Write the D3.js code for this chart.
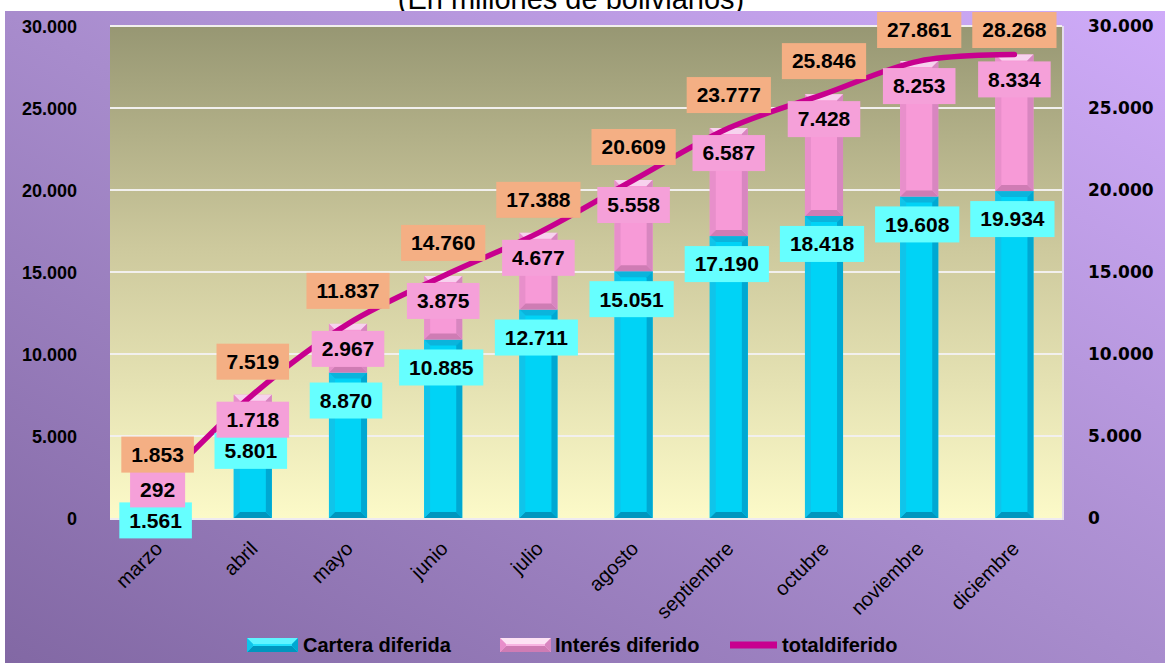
<!DOCTYPE html>
<html><head><meta charset="utf-8">
<script src="https://cdn.jsdelivr.net/npm/d3@7"></script>
<style>html,body{margin:0;padding:0;background:#fff;overflow:hidden}svg{display:block}</style>
</head><body>
<script>
const meses = ['marzo','abril','mayo','junio','julio','agosto','septiembre','octubre','noviembre','diciembre'];
const cartera = [1561,5801,8870,10885,12711,15051,17190,18418,19608,19934];
const interes = [292,1718,2967,3875,4677,5558,6587,7428,8253,8334];
const total = [1853,7519,11837,14760,17388,20609,23777,25846,27861,28268];
const yTicks = [0,5000,10000,15000,20000,25000,30000];
const titulo = '(En millones de bolivianos)';
const leyenda = ['Cartera diferida','Interés diferido','totaldiferido'];

const W = 1165, H = 663;
const svg = d3.select('body').append('svg').attr('width', W).attr('height', H);
const defs = svg.append('defs');
const loc = d3.formatLocale({decimal: ',', thousands: '.', grouping: [3], currency: ['', '']});
const fmt = loc.format(',d');

// gradients
const bg = defs.append('linearGradient').attr('id','bg').attr('x1',0).attr('y1',1).attr('x2',1).attr('y2',0);
bg.append('stop').attr('offset',0).attr('stop-color','#8268a4');
bg.append('stop').attr('offset',0.5).attr('stop-color','#a88ccd');
bg.append('stop').attr('offset',1).attr('stop-color','#cfabf9');
const pa = defs.append('linearGradient').attr('id','pa').attr('x1',0).attr('y1',0).attr('x2',0).attr('y2',1);
pa.append('stop').attr('offset',0).attr('stop-color','#979773');
pa.append('stop').attr('offset',0.45).attr('stop-color','#cdc99d');
pa.append('stop').attr('offset',1).attr('stop-color','#fcfac8');

// title (partially hidden under chart area)
svg.append('text').attr('x', 571).attr('y', 9).attr('text-anchor','middle')
  .attr('font-family','Liberation Sans, Arial, sans-serif').attr('font-size', 29).attr('fill','#000').text(titulo);

svg.append('rect').attr('x',5).attr('y',11).attr('width',W-5).attr('height',H-11).attr('fill','url(#bg)');

const x0 = 110, x1 = 1062, yTop = 26, yBot = 518;
const x = d3.scaleBand().domain(meses).range([x0, x1]).paddingInner(0.6).paddingOuter(0.3);
const y = d3.scaleLinear().domain([0, 30000]).range([yBot, yTop]);
const bw = x.bandwidth();
const cx = m => x(m) + bw / 2;

svg.append('rect').attr('x',x0).attr('y',yTop).attr('width',x1-x0).attr('height',yBot-yTop).attr('fill','url(#pa)');
// gridlines
svg.append('g').selectAll('line').data(yTicks.filter(t => t > 0)).join('line')
  .attr('x1',x0).attr('x2',x1).attr('y1',d=>y(d)).attr('y2',d=>y(d))
  .attr('stroke','#f2f0ee').attr('stroke-width',2);
svg.append('line').attr('x1',x0).attr('x2',x1+1).attr('y1',yBot+1).attr('y2',yBot+1).attr('stroke','#eeeaf0').attr('stroke-width',2);
svg.append('line').attr('x1',x1+1).attr('x2',x1+1).attr('y1',yTop).attr('y2',yBot+2).attr('stroke','#e4dcec').attr('stroke-width',2);

// beveled bar segment
function seg(g, xl, yt, yb, w, c) {
  const h = yb - yt; if (h <= 0) return;
  const b = Math.min(6, h / 2, w / 2);
  g.append('rect').attr('x',xl).attr('y',yt).attr('width',w).attr('height',h).attr('fill',c.base);
  const P = pts => g.append('polygon').attr('points', pts.map(p=>p.join(',')).join(' '));
  P([[xl,yt],[xl+w,yt],[xl+w-b,yt+b],[xl+b,yt+b]]).attr('fill',c.top);
  P([[xl,yb],[xl+w,yb],[xl+w-b,yb-b],[xl+b,yb-b]]).attr('fill',c.bot);
  P([[xl,yt],[xl+b,yt+b],[xl+b,yb-b],[xl,yb]]).attr('fill',c.left);
  P([[xl+w,yt],[xl+w-b,yt+b],[xl+w-b,yb-b],[xl+w,yb]]).attr('fill',c.right);
}
const cyan = {base:'#00d3f6', top:'#0bb4dc', bot:'#0096be', left:'#10c4ea', right:'#00a8d2'};
const pink = {base:'#f79ad7', top:'#f7d2ee', bot:'#cf7cb4', left:'#e88fcb', right:'#d886c0'};

const bars = svg.append('g');
meses.forEach((m, i) => {
  seg(bars, x(m), y(cartera[i]), y(0), bw, cyan);
  seg(bars, x(m), y(total[i]), y(cartera[i]), bw, pink);
});

// line
const line = d3.line().x((d,i)=>cx(meses[i])).y(d=>y(d)).curve(d3.curveCatmullRom.alpha(0.5));
svg.append('path').attr('d', line(total)).attr('fill','none').attr('stroke','#c8008f').attr('stroke-width',5.5).attr('stroke-linecap','round');

// axes
const axFont = 'Liberation Sans, Arial, sans-serif';
const gl = svg.append('g').attr('transform',`translate(${x0},0)`)
  .call(d3.axisLeft(y).tickValues(yTicks).tickFormat(fmt).tickSize(0).tickPadding(33));
gl.select('.domain').remove();
gl.selectAll('text').attr('font-family',axFont).attr('font-weight','bold').attr('font-size',18).attr('fill','#000').attr('dy','0.35em');
const gr = svg.append('g').attr('transform',`translate(${x1},0)`)
  .call(d3.axisRight(y).tickValues(yTicks).tickFormat(fmt).tickSize(0).tickPadding(26));
gr.select('.domain').remove();
gr.selectAll('text').attr('font-family','DejaVu Sans, Verdana, sans-serif').attr('font-weight','bold').attr('font-size',17).attr('fill','#000').attr('dy','0.35em');
const gb = svg.append('g').attr('transform',`translate(0,${yBot})`)
  .call(d3.axisBottom(x).tickSize(0));
gb.select('.domain').remove();
gb.selectAll('.tick').attr('transform', d => `translate(${cx(d) + 6},32) rotate(-45)`);
gb.selectAll('text').attr('x',0).attr('y',0).attr('dy',0).attr('text-anchor','end')
  .attr('font-family',axFont).attr('font-size',20).attr('fill','#000');

// labels
const lblG = svg.append('g');
function label(xc, yc, txt, fill) {
  const t = lblG.append('text').attr('x',xc).attr('y',yc).attr('dy','0.35em').attr('text-anchor','middle')
    .attr('font-family',axFont).attr('font-weight','bold').attr('font-size',21).attr('fill','#000').text(txt);
  const wd = t.node().getComputedTextLength() + 20, ht = 36;
  lblG.insert('rect', () => t.node()).attr('x', xc - wd/2).attr('y', yc - ht/2).attr('width', wd).attr('height', ht).attr('fill', fill);
}
meses.forEach((m, i) => {
  const cy = y(cartera[i]) + 28;
  const iy = Math.min(y(total[i]) + 25, cy - 31);
  const ty = Math.max(y(total[i]) - 33, 30);
  label(cx(m) - 2, cy, fmt(cartera[i]), '#66ffff');
  label(cx(m), iy, fmt(interes[i]), '#f5a0d9');
  label(cx(m), ty, fmt(total[i]), '#f4af84');
});

// legend
const lg = svg.append('g');
const ly = 645;
const legX = [247, 500, 730];
seg(lg, legX[0], ly - 7, ly + 7, 51, {base:'#1fe0fb', top:'#5ff4ff', bot:'#0096be', left:'#10c4ea', right:'#00a8d2'});
seg(lg, legX[1], ly - 7, ly + 7, 51, {base:'#f8b4e2', top:'#fde2f4', bot:'#cf7cb4', left:'#e88fcb', right:'#d886c0'});
lg.append('rect').attr('x', legX[2]).attr('y', ly - 3.5).attr('width', 47).attr('height', 7).attr('fill', '#c8008f');
const ltx = [303, 555, 782];
leyenda.forEach((t, i) => {
  lg.append('text').attr('x', ltx[i]).attr('y', ly).attr('dy','0.35em').attr('font-family',axFont)
    .attr('font-weight','bold').attr('font-size',20).attr('fill','#000').text(t);
});
</script>
</body></html>
